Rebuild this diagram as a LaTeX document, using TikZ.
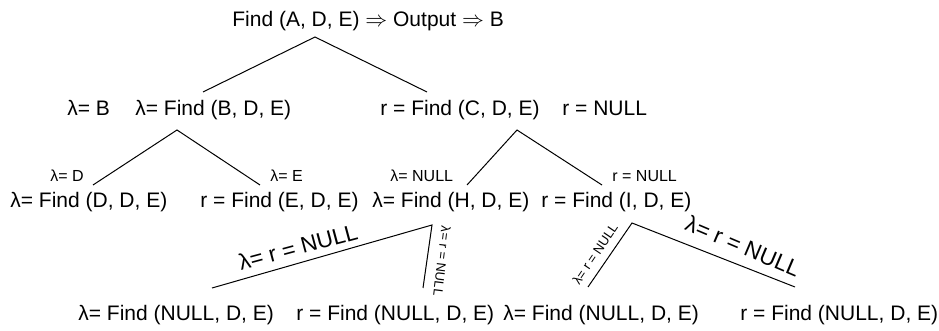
\documentclass[tikz,border=0pt]{standalone}
\usepackage{fontspec}
\setmainfont{Liberation Sans}
\usepackage{tikz}
\usetikzlibrary{positioning,calc}

\begin{document}
\begin{tikzpicture}[
  x=0.5pt,y=-0.5pt,
  call/.style={anchor=base west,inner sep=0pt,font=\fontsize{10.5}{12}\selectfont},
  tag/.style={anchor=base west,inner sep=0pt,font=\fontsize{8}{9.6}\selectfont},
  bigtag/.style={inner sep=0pt,font=\fontsize{11.3}{13}\selectfont},
  tinytag/.style={inner sep=0pt,font=\fontsize{6.5}{8}\selectfont},
  branch/.style={line width=0.5pt,black}
]
\useasboundingbox (0,0) rectangle (939,331);

% calls, row by row
\node[call] (root) at (232,27) {Find (A, D, E) $\Rightarrow$ Output $\Rightarrow$ B};
\node[call] (lB) at (67,116) {λ= B};
\node[call] (fB) at (135,116) {λ= Find (B, D, E)};
\node[call] (fC) at (380,116) {r = Find (C, D, E)};
\node[call] (rC) at (562,116) {r = NULL};
\node[call] (fD) at (10,208) {λ= Find (D, D, E)};
\node[call] (fE) at (200,208) {r = Find (E, D, E)};
\node[call] (fH) at (372,208) {λ= Find (H, D, E)};
\node[call] (fI) at (541,208) {r = Find (I, D, E)};
\node[call] (nHl) at (78,321) {λ= Find (NULL, D, E)};
\node[call] (nHr) at (296,321) {r = Find (NULL, D, E)};
\node[call] (nIl) at (503,321) {λ= Find (NULL, D, E)};
\node[call] (nIr) at (740,321) {r = Find (NULL, D, E)};

% returned values
\node[tag] (tD) at (50,182) {λ= D};
\node[tag] (tE) at (270,182) {λ= E};
\node[tag] (tH) at (390,182) {λ= NULL};
\node[tag] (tI) at (612,182) {r = NULL};

% forks
\coordinate (A-top) at (315,37);
\coordinate (A-l) at (203,92);
\coordinate (A-r) at (427,92);
\coordinate (B-top) at (177,130);
\coordinate (B-l) at (93,185);
\coordinate (B-r) at (260,185);
\coordinate (C-top) at (517,130);
\coordinate (C-l) at (467,185);
\coordinate (C-r) at (602,185);
\coordinate (H-top) at (432,225);
\coordinate (H-l) at (212,288);
\coordinate (H-r) at (423,288);
\coordinate (I-top) at (632,223);
\coordinate (I-l) at (588,287);
\coordinate (I-r) at (795,287);
\foreach \f in {A,B,C,H,I}
  \draw[branch] (\f-l) -- (\f-top) -- (\f-r);

% labels on the last branches
\node[bigtag,rotate=15] (eHl) at (298,247) {λ= r = NULL};
\node[tinytag,rotate=-97] (eHr) at (442,261) {λ= r = NULL};
\node[tinytag,rotate=56] (eIl) at (595,254) {λ= r = NULL};
\node[bigtag,rotate=-23] (eIr) at (743,246) {λ= r = NULL};
\end{tikzpicture}
\end{document}
